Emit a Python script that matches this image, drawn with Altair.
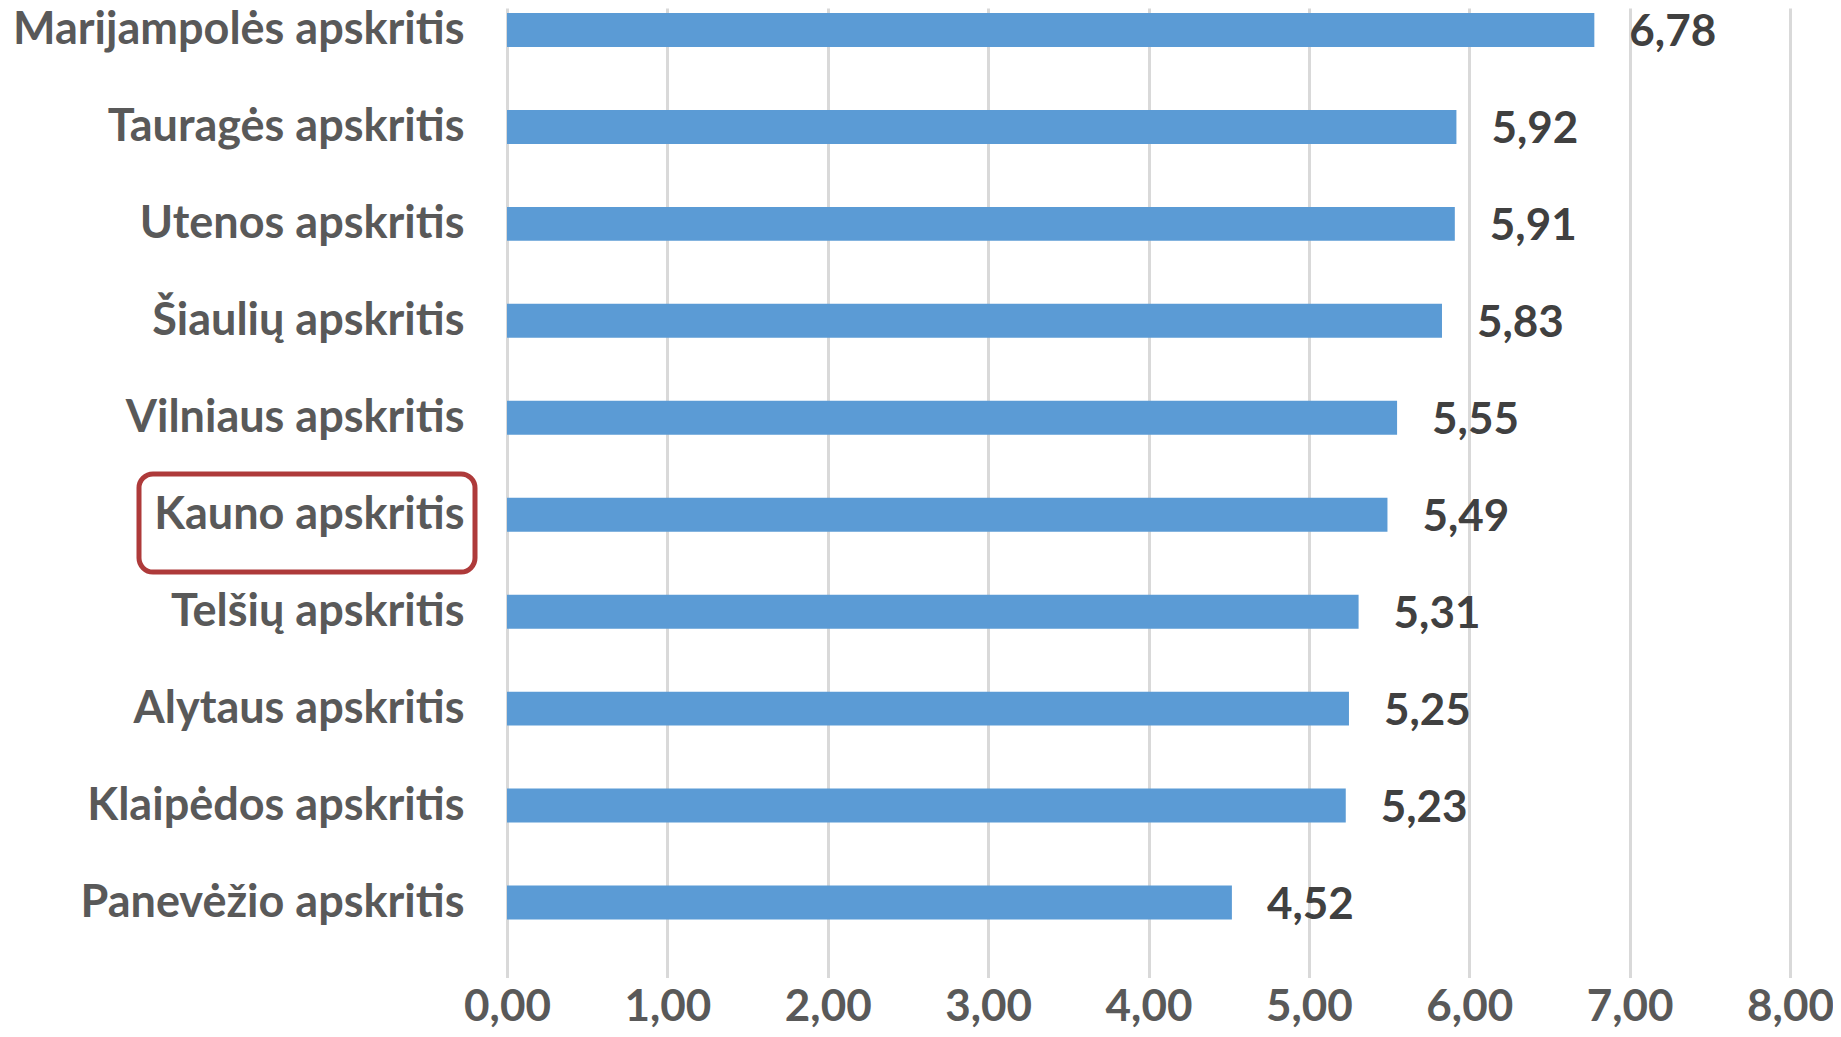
import altair as alt
import pandas as pd

regions = [
    "Marijampolės apskritis",
    "Tauragės apskritis",
    "Utenos apskritis",
    "Šiaulių apskritis",
    "Vilniaus apskritis",
    "Kauno apskritis",
    "Telšių apskritis",
    "Alytaus apskritis",
    "Klaipėdos apskritis",
    "Panevėžio apskritis",
]
values = [6.78, 5.92, 5.91, 5.83, 5.55, 5.49, 5.31, 5.25, 5.23, 4.52]
ticks = [0, 1, 2, 3, 4, 5, 6, 7, 8]
highlight = ["Kauno apskritis"]

df = pd.DataFrame({"region": regions, "value": values})

FONT = "Lato"
FS = 44
LABEL_EXPR = "replace(format(datum.value, '.2f'), '.', ',')"

yscale = alt.Scale(range=[-26.5, 943], paddingInner=0.65, paddingOuter=0.325)

y = alt.Y(
    "region:N",
    sort=regions,
    scale=yscale,
    axis=alt.Axis(
        title=None, domain=False, ticks=False, grid=False,
        labelFont=FONT, labelFontSize=45, labelFontWeight="bold",
        labelColor="#595959", labelPadding=43, labelLimit=700,
    ),
)
x = alt.X(
    "value:Q",
    scale=alt.Scale(domain=[0, 8], nice=False, zero=True),
    axis=alt.Axis(
        title=None, values=ticks, domain=False, ticks=False, grid=True,
        gridColor="#D9D9D9", gridWidth=3,
        labelExpr=LABEL_EXPR, labelFlush=False, labelOverlap=False,
        labelFont=FONT, labelFontSize=FS, labelFontWeight="bold",
        labelColor="#595959", labelPadding=34,
    ),
)

base = alt.Chart(df)
bars = base.mark_bar(color="#5B9BD5").encode(x=x, y=y)
text = base.transform_calculate(
    label=LABEL_EXPR
).mark_text(
    align="left", baseline="middle", dx=35, dy=3,
    font=FONT, fontSize=FS, fontWeight="bold", color="#404040",
).encode(
    x=x,
    y=y,
    text="label:N",
)

box = alt.Chart(pd.DataFrame({"region": highlight})).mark_rect(
    fillOpacity=0, stroke="#AE3A3A", strokeWidth=5, cornerRadius=14,
).encode(
    x=alt.value(-368), x2=alt.value(-32),
    y=alt.value(466), y2=alt.value(564),
)

chart = alt.layer(bars, text, box).properties(
    width=1283,
    height=943,
    padding={"left": 499, "top": 0, "right": 43, "bottom": 78},
    autosize="none",
    background="white",
).configure_view(stroke=None)

chart.save("out.html", embed_options={"renderer": "svg", "actions": False})
